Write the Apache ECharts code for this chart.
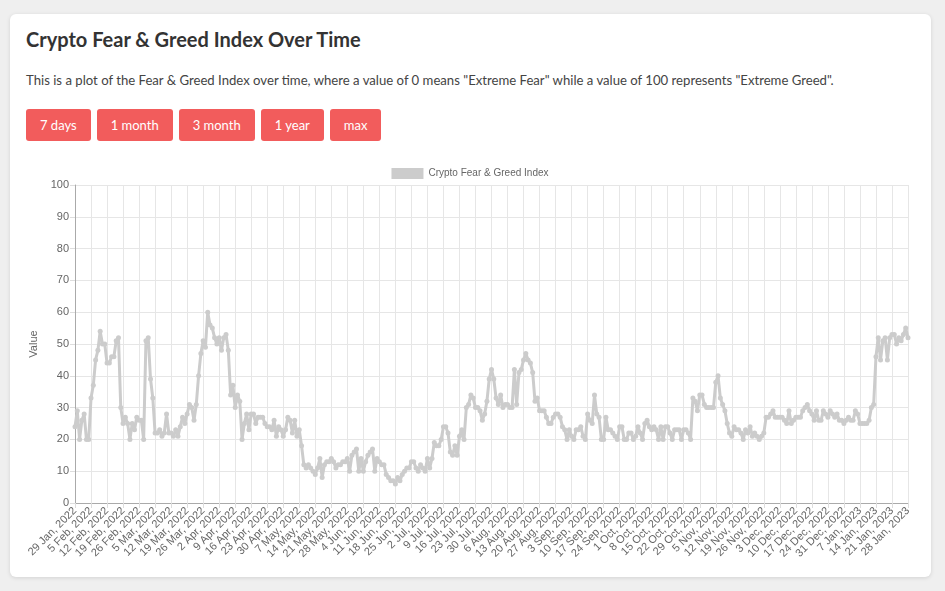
<!DOCTYPE html>
<html>
<head>
<meta charset="utf-8">
<title>Crypto Fear & Greed Index</title>
<script src="https://cdn.jsdelivr.net/npm/echarts@6/dist/echarts.min.js"></script>
<style>
  html, body { margin: 0; padding: 0; background: #efefef; }
  body { width: 945px; height: 591px; position: relative; overflow: hidden; font-family: "Lato", "Noto Sans", sans-serif; }
  .card {
    position: absolute; left: 10px; top: 14px; width: 921px; height: 563px;
    background: #fff; border-radius: 6px; box-shadow: 0 1px 4px rgba(0,0,0,0.12);
  }
  h2 { position: absolute; left: 16px; top: 13px; margin: 0; font-size: 20px; font-weight: 700; color: #333; }
  p { position: absolute; left: 16px; top: 58px; margin: 0; font-size: 13.15px; color: #444; }
  .btns { position: absolute; left: 16px; top: 95px; }
  .btns button {
    float: left; height: 32px; margin-right: 6px; padding: 0 14px; border: 0; border-radius: 3px;
    background: #f25c5c; color: #fff; font-family: inherit; font-size: 13px;
  }
  #chart { position: absolute; left: 10px; top: 144px; width: 900px; height: 410px; }
</style>
</head>
<body>
<div class="card">
  <h2>Crypto Fear &amp; Greed Index Over Time</h2>
  <p>This is a plot of the Fear &amp; Greed Index over time, where a value of 0 means "Extreme Fear" while a value of 100 represents "Extreme Greed".</p>
  <div class="btns">
    <button>7 days</button><button>1 month</button><button>3 month</button><button>1 year</button><button>max</button>
  </div>
  <div id="chart"></div>
</div>
<script>
// daily index values, 29 Jan 2022 .. 28 Jan 2023
const fearGreed = [
  24, 29, 20, 26, 28, 20, 20, 33, 37, 45,
  48, 54, 50, 50, 44, 44, 46, 46, 51, 52,
  30, 25, 27, 25, 20, 25, 23, 27, 26, 26,
  20, 51, 52, 39, 33, 22, 22, 23, 21, 22,
  28, 22, 22, 21, 23, 21, 24, 27, 25, 28,
  31, 30, 26, 31, 40, 47, 51, 49, 60, 56,
  55, 52, 50, 52, 48, 52, 53, 48, 34, 37,
  30, 34, 32, 20, 25, 28, 23, 28, 28, 25,
  27, 27, 27, 25, 24, 24, 23, 26, 21, 24,
  23, 21, 23, 27, 26, 22, 26, 21, 23, 18,
  12, 11, 12, 11, 10, 9, 11, 14, 8, 12,
  13, 13, 14, 13, 11, 12, 12, 13, 13, 14,
  10, 15, 16, 17, 10, 14, 10, 13, 15, 16,
  17, 10, 14, 13, 12, 12, 9, 8, 7, 7,
  6, 8, 7, 9, 10, 11, 11, 13, 13, 11,
  10, 12, 11, 10, 14, 11, 14, 19, 18, 18,
  20, 24, 24, 22, 16, 15, 18, 15, 21, 23,
  20, 30, 31, 34, 33, 30, 30, 29, 26, 28,
  32, 39, 42, 39, 33, 31, 34, 30, 31, 31,
  30, 30, 42, 31, 41, 42, 45, 47, 45, 44,
  41, 32, 33, 29, 29, 29, 27, 25, 25, 27,
  28, 28, 27, 24, 23, 20, 23, 21, 20, 23,
  23, 24, 21, 20, 28, 26, 25, 34, 28, 27,
  20, 20, 27, 23, 23, 22, 21, 20, 24, 24,
  20, 20, 22, 22, 20, 21, 24, 22, 20, 25,
  26, 24, 23, 24, 23, 20, 24, 20, 24, 24,
  22, 20, 23, 23, 23, 20, 23, 23, 22, 20,
  33, 32, 29, 34, 34, 31, 30, 30, 30, 30,
  38, 40, 33, 31, 29, 25, 22, 21, 24, 23,
  23, 22, 20, 23, 22, 24, 21, 22, 21, 20,
  21, 22, 27, 27, 28, 29, 27, 27, 27, 27,
  26, 25, 29, 25, 26, 27, 27, 27, 29, 30,
  31, 29, 28, 26, 29, 26, 26, 29, 28, 27,
  29, 28, 27, 28, 26, 26, 25, 26, 27, 26,
  26, 29, 28, 25, 25, 25, 25, 26, 30, 31,
  46, 52, 45, 51, 52, 45, 52, 53, 53, 50,
  52, 51, 53, 55, 52
];

const startDay = Date.UTC(2022, 0, 29);
const monthNames = ['Jan', 'Feb', 'Mar', 'Apr', 'May', 'Jun', 'Jul', 'Aug', 'Sep', 'Oct', 'Nov', 'Dec'];
const dayLabels = fearGreed.map(function (v, i) {
  const d = new Date(startDay + i * 86400000);
  return d.getUTCDate() + ' ' + monthNames[d.getUTCMonth()] + ', ' + d.getUTCFullYear();
});

const yTicks = { min: 0, max: 100, step: 10 };
const chartFont = '"Liberation Sans", Arial, sans-serif';

const chart = echarts.init(document.getElementById('chart'));
chart.setOption({
  animation: false,
  textStyle: { fontFamily: chartFont },
  legend: {
    top: 5,
    left: 'center',
    itemWidth: 32,
    itemHeight: 11,
    itemGap: 5,
    icon: 'rect',
    textStyle: { color: '#666', fontSize: 10, fontFamily: chartFont },
    data: ['Crypto Fear & Greed Index']
  },
  grid: { left: 53, right: 12, top: 27, bottom: 65 },
  xAxis: {
    type: 'category',
    boundaryGap: false,
    data: dayLabels,
    axisLine: { lineStyle: { color: '#aaa', width: 1 } },
    axisTick: { show: true, interval: 6, length: 5, lineStyle: { color: '#ddd' } },
    axisLabel: { interval: 6, rotate: 45, color: '#666', fontSize: 11, margin: 6, fontFamily: chartFont },
    splitLine: { show: true, interval: 6, lineStyle: { color: '#e6e6e6' } }
  },
  yAxis: {
    type: 'value',
    min: yTicks.min,
    max: yTicks.max,
    interval: yTicks.step,
    name: 'Value',
    nameLocation: 'middle',
    nameGap: 36,
    nameTextStyle: { color: '#666', fontSize: 11, fontFamily: chartFont },
    axisLine: { show: true, lineStyle: { color: '#aaa' } },
    axisTick: { show: true, length: 5, lineStyle: { color: '#ddd' } },
    axisLabel: { color: '#666', fontSize: 11, margin: 6, fontFamily: chartFont },
    splitLine: { lineStyle: { color: '#e6e6e6' } }
  },
  series: [
    {
      name: 'Crypto Fear & Greed Index',
      type: 'line',
      data: fearGreed,
      symbol: 'circle',
      symbolSize: 5,
      showAllSymbol: true,
      itemStyle: { color: '#cccccc' },
      lineStyle: { color: '#cccccc', width: 3 }
    }
  ]
});
</script>
</body>
</html>
